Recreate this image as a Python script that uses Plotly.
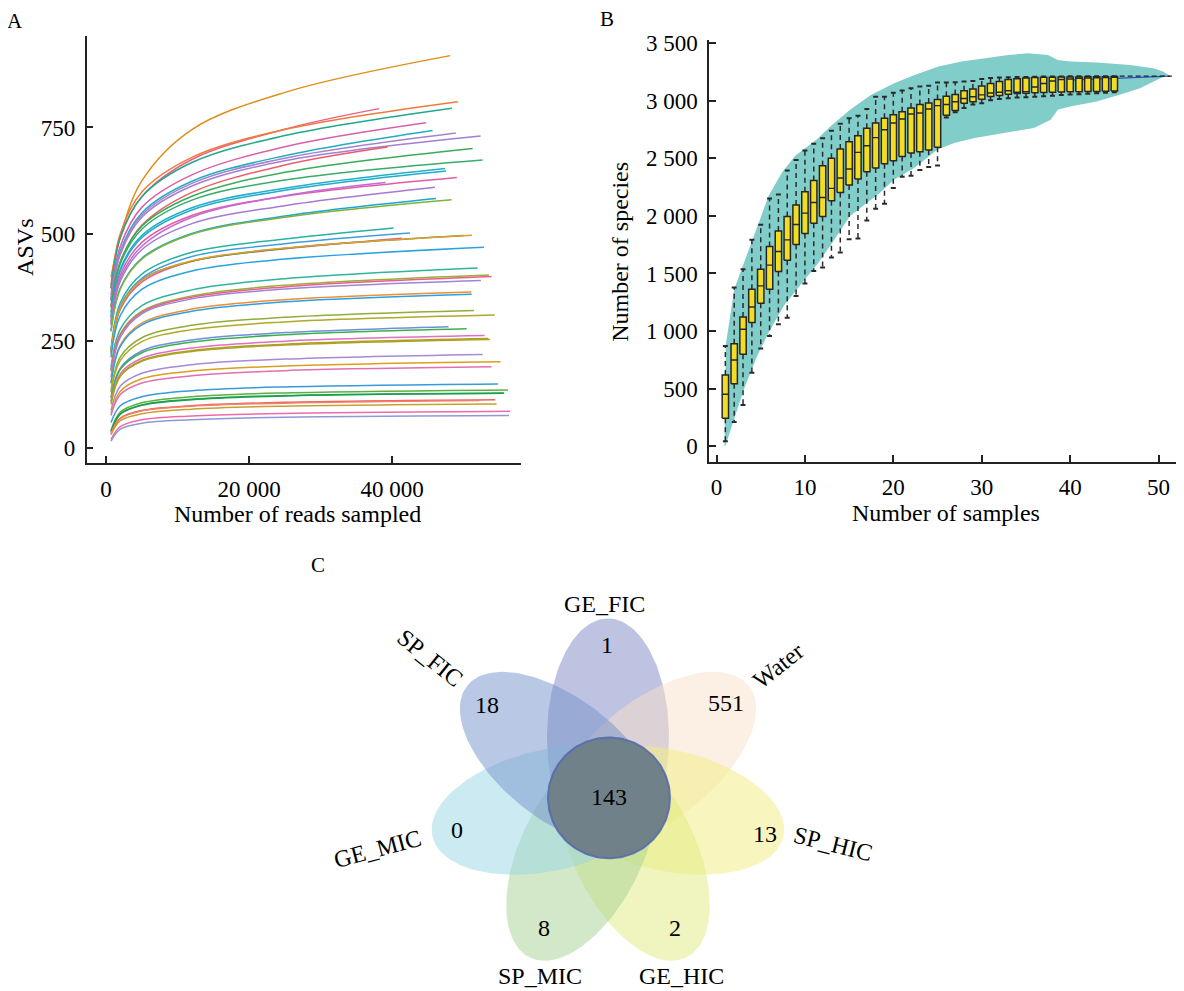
import numpy as np
import plotly.graph_objects as go

W, H = 1184, 991
OFFX, OFFY = 8, 13   # figure pixel = reference pixel - offset
FONT = "Liberation Serif"

# ---------------- Panel A: rarefaction curves ----------------
reads_grid = [700, 2000, 5000, 12000, 25000]
curve_end_reads = [48110, 38180, 49180, 48340, 44710, 45640, 48900, 52350, 39350, 51240,
                   52630, 47410, 47510, 49040, 39070, 45970, 46110, 48300, 40190, 42470,
                   41350, 49980, 51140, 52820, 51930, 53520, 53890, 52400, 51050, 51100,
                   51420, 54310, 47880, 50400, 52910, 53430, 53660, 52630, 55150, 53890,
                   54780, 56180, 55570, 55650, 54400, 52170, 54590, 56460, 56320]
# ASVs at reads_grid points, then at the curve's end
curve_values = [
    [400, 495, 625, 745, 832, 918],
    [373, 492, 588, 675, 746, 794],
    [381, 502, 599, 680, 745, 810],
    [374, 493, 588, 668, 731, 795],
    [358, 472, 563, 639, 705, 761],
    [349, 461, 550, 624, 684, 743],
    [346, 457, 545, 619, 678, 737],
    [343, 453, 540, 613, 672, 730],
    [331, 436, 521, 598, 662, 704],
    [329, 435, 519, 589, 645, 701],
    [317, 431, 512, 580, 627, 674],
    [307, 419, 497, 562, 608, 654],
    [305, 415, 492, 557, 603, 648],
    [298, 405, 481, 544, 589, 633],
    [292, 397, 472, 540, 590, 621],
    [287, 390, 464, 525, 567, 610],
    [274, 374, 444, 502, 543, 584],
    [273, 372, 442, 500, 540, 581],
    [232, 340, 407, 458, 489, 515],
    [226, 332, 397, 448, 478, 503],
    [221, 324, 388, 437, 466, 491],
    [224, 328, 393, 437, 467, 497],
    [224, 329, 393, 438, 468, 498],
    [212, 310, 371, 414, 442, 470],
    [189, 278, 333, 370, 396, 421],
    [182, 267, 320, 356, 381, 405],
    [180, 265, 317, 353, 377, 401],
    [165, 259, 314, 349, 372, 392],
    [153, 241, 292, 325, 347, 365],
    [151, 238, 288, 320, 342, 360],
    [135, 213, 258, 287, 306, 322],
    [131, 205, 249, 277, 295, 311],
    [119, 187, 227, 253, 270, 284],
    [117, 184, 223, 248, 265, 279],
    [110, 174, 210, 234, 250, 263],
    [108, 169, 205, 228, 243, 256],
    [102, 168, 203, 226, 241, 254],
    [88, 145, 175, 195, 208, 219],
    [81, 133, 162, 180, 192, 202],
    [76, 125, 152, 169, 181, 190],
    [60, 99, 120, 134, 143, 150],
    [41, 84, 106, 120, 129, 136],
    [39, 80, 101, 114, 123, 129],
    [38, 79, 100, 113, 122, 128],
    [34, 70, 88, 99, 107, 113],
    [33, 69, 87, 98, 105, 111],
    [31, 64, 80, 91, 98, 103],
    [20, 50, 66, 75, 81, 86],
    [16, 44, 58, 66, 72, 76],
]
curve_colors = ["#e08e1b", "#ee5f86", "#ee7b3a", "#22a88a", "#d85faa", "#20aec2", "#a983c9",
                "#a27fd0", "#ef5a6a", "#3bab5a", "#36ad6a", "#1fb1c7", "#26a9cc", "#e45ca6",
                "#c26ad6", "#a67ad0", "#1aa6d6", "#7fb23a", "#27b3a4", "#3f9ee0", "#ec5d9a",
                "#2fa84a", "#e89a30", "#27a3e0", "#2fb59a", "#93b23a", "#ef5c88", "#9d86d6",
                "#e8903a", "#2fa0dd", "#8fae3a", "#b0a828", "#6f8fdc", "#3bb04a", "#df6fc0",
                "#a9a424", "#b0a020", "#a58ad6", "#d8a020", "#e070b0", "#3a9ad8", "#5ab040",
                "#2aa55a", "#1f9e50", "#ee6050", "#f08070", "#c8a030", "#f06aa8", "#8c9ad8"]
a_xticks = [0, 20000, 40000]
a_xticktext = ["0", "20 000", "40 000"]
a_yticks = [0, 250, 500, 750]

# ---------------- Panel B: species accumulation boxplots ----------------
n_samples = list(range(1, 46))
box_q1 = [241, 542, 797, 1073, 1241, 1363, 1517, 1615, 1752, 1847, 1937, 1995, 2131, 2204, 2268,
          2320, 2384, 2416, 2453, 2479, 2517, 2546, 2558, 2572, 2597, 2875, 2915, 2978, 2993, 3013,
          3037, 3047, 3057, 3063, 3066, 3070, 3072, 3074, 3076, 3078, 3079, 3080, 3082, 3084, 3086]
box_med = [450, 748, 1015, 1209, 1392, 1572, 1691, 1792, 1925, 2024, 2117, 2160, 2239, 2329, 2407,
           2552, 2610, 2680, 2749, 2807, 2842, 2886, 2894, 2929, 2958, 2968, 2992, 3020, 3035, 3052,
           3068, 3074, 3088, 3075, 3080, 3120, 3150, 3172, 3185, 3190, 3195, 3198, 3200, 3202, 3204]
box_q3 = [618, 890, 1122, 1363, 1537, 1734, 1868, 1995, 2094, 2210, 2308, 2436, 2500, 2581, 2645,
          2697, 2761, 2807, 2848, 2880, 2906, 2938, 2967, 2981, 3012, 3040, 3055, 3088, 3102, 3128,
          3150, 3168, 3185, 3192, 3198, 3202, 3204, 3205, 3206, 3207, 3208, 3209, 3209, 3210, 3211]
whisk_lo = [43, 209, 357, 638, 847, 957, 1058, 1116, 1305, 1412, 1522, 1551, 1638, 1682, 1798,
            1804, 1960, 2062, 2105, 2242, 2340, 2350, 2400, 2425, 2437, 2855, 2900, 2937, 2968, 2978,
            3005, 3015, 3022, 3028, 3032, 3036, 3040, 3045, 3050, 3054, 3058, 3062, 3066, 3070, 3075]
whisk_hi = [870, 1377, 1537, 1792, 1923, 2152, 2186, 2395, 2485, 2569, 2627, 2674, 2740, 2801, 2848,
            2871, 2929, 3035, 3035, 3070, 3090, 3110, 3125, 3132, 3160, 3159, 3162, 3167, 3172, 3190,
            3198, 3202, 3205, 3207, 3208, 3210, 3211, 3212, 3212, 3213, 3213, 3213, 3213, 3213, 3213]
band_upper_x = [0.9, 1.05, 2.0, 3.1, 4.6, 5.9, 7.4, 8.9, 11.4, 12.9, 15.1, 17.5, 20.1, 22.4, 25.0,
                27.7, 30.4, 33.0, 35.2, 37.5, 38.6, 40.0, 43.0, 46.8, 49.4, 50.5, 51.3]
band_upper_y = [0, 880, 1363, 1595, 1914, 2175, 2378, 2523, 2668, 2780, 2922, 3052, 3153, 3225, 3297,
                3341, 3369, 3398, 3413, 3398, 3355, 3341, 3332, 3311, 3283, 3254, 3215]
band_lower_x = [1.0, 2.0, 3.1, 4.6, 5.9, 7.6, 9.7, 11.4, 13.0, 15.1, 17.0, 18.5, 20.1, 22.4, 25.0,
                26.9, 29.2, 31.4, 33.7, 35.9, 37.8, 38.6, 40.0, 43.0, 45.6, 47.9, 49.8, 50.9]
band_lower_y = [0, 232, 493, 783, 986, 1218, 1421, 1580, 1755, 2000, 2115, 2202, 2317, 2418, 2576,
                2634, 2677, 2706, 2735, 2764, 2836, 2922, 2951, 2995, 3052, 3110, 3182, 3220]
mean_x = [40, 42, 44, 46, 48, 50, 51.3]
mean_y = [3180, 3186, 3192, 3198, 3205, 3211, 3215]
total_x = [45.6, 51.5]
total_y = [3215, 3215]
b_xticks = [0, 10, 20, 30, 40, 50]
b_yticks = [0, 500, 1000, 1500, 2000, 2500, 3000, 3500]
b_yticktext = ["0", "500", "1 000", "1 500", "2 000", "2 500", "3 000", "3 500"]

# ---------------- Panel C: flower Venn ----------------
venn_sets = ["GE_FIC", "Water", "SP_HIC", "GE_HIC", "SP_MIC", "GE_MIC", "SP_FIC"]
venn_unique = [1, 551, 13, 2, 8, 0, 18]
venn_core = 143
venn_colors = ["#7d87c3", "#f9e1c9", "#f1ed7d", "#e1e97d", "#a5d191", "#99d5e5", "#7391c9"]

fig = go.Figure()

# ---- A ----
for xs_end, vals, col in zip(curve_end_reads, curve_values, curve_colors):
    fig.add_trace(go.Scatter(x=reads_grid + [xs_end], y=vals, mode="lines",
                             line=dict(color=col, width=1.5, shape="spline", smoothing=1.0),
                             xaxis="x", yaxis="y", hoverinfo="skip", showlegend=False))

# ---- B ----
bx = band_upper_x + band_lower_x[::-1]
by = band_upper_y + band_lower_y[::-1]
fig.add_trace(go.Scatter(x=bx, y=by, fill="toself", mode="lines", line=dict(width=0),
                         fillcolor="#80cdc9", xaxis="x2", yaxis="y2", hoverinfo="skip",
                         showlegend=False))
fig.add_trace(go.Scatter(x=mean_x, y=mean_y, mode="lines", line=dict(color="#2e4fc0", width=1.3),
                         xaxis="x2", yaxis="y2", hoverinfo="skip", showlegend=False))
fig.add_trace(go.Scatter(x=total_x, y=total_y, mode="lines",
                         line=dict(color="#222", width=1.4, dash="5px,3px"),
                         xaxis="x2", yaxis="y2", hoverinfo="skip", showlegend=False))

hw = 0.36   # half box width
cw = 0.28   # half cap width
wx, wy, cx_, cy_, rx, ry, mx, my = [], [], [], [], [], [], [], []
for s, q1, md, q3, lo, hi in zip(n_samples, box_q1, box_med, box_q3, whisk_lo, whisk_hi):
    wx += [s, s, None, s, s, None]
    wy += [q3, hi, None, q1, lo, None]
    cx_ += [s - cw, s + cw, None, s - cw, s + cw, None]
    cy_ += [hi, hi, None, lo, lo, None]
    rx += [s - hw, s + hw, s + hw, s - hw, s - hw, None]
    ry += [q1, q1, q3, q3, q1, None]
    mx += [s - hw, s + hw, None]
    my += [md, md, None]

fig.add_trace(go.Scatter(x=wx, y=wy, mode="lines", line=dict(color="#2a2a2a", width=1.5, dash="5px,4px"),
                         xaxis="x2", yaxis="y2", hoverinfo="skip", showlegend=False, connectgaps=False))
fig.add_trace(go.Scatter(x=cx_, y=cy_, mode="lines", line=dict(color="#2a2a2a", width=2),
                         xaxis="x2", yaxis="y2", hoverinfo="skip", showlegend=False, connectgaps=False))
fig.add_trace(go.Scatter(x=rx, y=ry, mode="lines", fill="toself", fillcolor="#f2dc24",
                         line=dict(color="#262626", width=1.5),
                         xaxis="x2", yaxis="y2", hoverinfo="skip", showlegend=False, connectgaps=False))
fig.add_trace(go.Scatter(x=mx, y=my, mode="lines", line=dict(color="#262626", width=1.4),
                         xaxis="x2", yaxis="y2", hoverinfo="skip", showlegend=False, connectgaps=False))

# ---- C ---- (x3/y3 are in reference-pixel units)
FC_X, FC_Y = 608, 800      # flower centre
PA, PB, PD = 120, 61, 60   # petal semi-axes and offset
CORE_R = 61
n = len(venn_sets)
t = np.linspace(0, 2 * np.pi, 160)
for i, (name, col) in enumerate(zip(venn_sets, venn_colors)):
    ang = np.radians(90 - i * 360 / n)
    ecx = FC_X + PD * np.cos(ang)
    ecy = FC_Y - PD * np.sin(ang)
    ex, ey = PA * np.cos(t), PB * np.sin(t)
    xs = ecx + ex * np.cos(ang) - ey * np.sin(ang)
    ys = ecy - (ex * np.sin(ang) + ey * np.cos(ang))
    fig.add_trace(go.Scatter(x=xs, y=ys, fill="toself", mode="lines", line=dict(width=0),
                             fillcolor=col, opacity=0.5, xaxis="x3", yaxis="y3",
                             hoverinfo="skip", showlegend=False))
fig.add_trace(go.Scatter(x=FC_X + 1 + CORE_R * np.cos(t), y=FC_Y + 1 + CORE_R * np.sin(t),
                         fill="toself", mode="lines", fillcolor="#718189",
                         line=dict(color="rgba(85,105,175,0.85)", width=2),
                         xaxis="x3", yaxis="y3", hoverinfo="skip", showlegend=False))


def fx(px):
    return (px - OFFX) / W


def fy(py):
    return 1 - (py - OFFY) / H


def ann(text, px, py, size=24, angle=0, ref="paper"):
    if ref == "paper":
        x, y, xr, yr = fx(px), fy(py), "paper", "paper"
    else:
        x, y, xr, yr = px, py, "x3", "y3"
    return dict(text=text, x=x, y=y, xref=xr, yref=yr, showarrow=False, textangle=angle,
                font=dict(family=FONT, size=size, color="black"),
                xanchor="center", yanchor="middle")


annotations = [
    ann("A", 15, 17, 21), ann("B", 607, 15, 21), ann("C", 318, 566, 21),
    ann("ASVs", 25, 246, 24, -90),
    ann("Number of reads sampled", 297, 515, 24),
    ann("Number of species", 620, 250, 24, -90),
    ann("Number of samples", 946, 514, 24),
]
num_pos = [(607, 647), (726, 705), (765, 837), (675, 932), (544, 932), (457, 833), (487, 707)]
lab_pos = [(604, 605, 0), (778, 668, -38.6), (833, 848, 14), (681, 981, 0),
           (540, 981, 0), (377, 853, -15), (430, 660, 38.6)]
for v, (px, py) in zip(venn_unique, num_pos):
    annotations.append(ann(str(v), px, py, 24, 0, "c"))
for name, (px, py, a) in zip(venn_sets, lab_pos):
    annotations.append(ann(name, px, py, 24, a, "c"))
annotations.append(ann(str(venn_core), 609, 800, 24, 0, "c"))

axis_common = dict(showline=True, linecolor="#222", linewidth=1.5, ticks="inside", ticklen=7,
                   tickwidth=1.5, tickcolor="#222", showgrid=False, zeroline=False,
                   tickfont=dict(family=FONT, size=23, color="black"), fixedrange=True)

fig.update_layout(
    width=W, height=H, margin=dict(l=0, r=0, t=0, b=0),
    paper_bgcolor="white", plot_bgcolor="rgba(0,0,0,0)", showlegend=False,
    xaxis=dict(domain=[fx(86.7), fx(521)], range=[-2700, 58000], anchor="y",
               tickvals=a_xticks, ticktext=a_xticktext, ticklabelstandoff=5, **axis_common),
    yaxis=dict(domain=[fy(463), fy(31.7)], range=[-34.8, 965], anchor="x",
               tickvals=a_yticks, ticklabelstandoff=5, **axis_common),
    xaxis2=dict(domain=[fx(709), fx(1184)], range=[-0.85, 52.88], anchor="y2",
                tickvals=b_xticks, ticklabelstandoff=4, **axis_common),
    yaxis2=dict(domain=[fy(461.7), fy(36.5)], range=[-135, 3526], anchor="x2",
                tickvals=b_yticks, ticktext=b_yticktext, ticklabelstandoff=5, **axis_common),
    xaxis3=dict(domain=[0, 1], range=[OFFX, W + OFFX], visible=False, anchor="y3", fixedrange=True),
    yaxis3=dict(domain=[0, 0.44], range=[H + OFFY, H + OFFY - 0.44 * H], visible=False,
                anchor="x3", fixedrange=True),
    annotations=annotations,
)

fig.write_html("out.html")
